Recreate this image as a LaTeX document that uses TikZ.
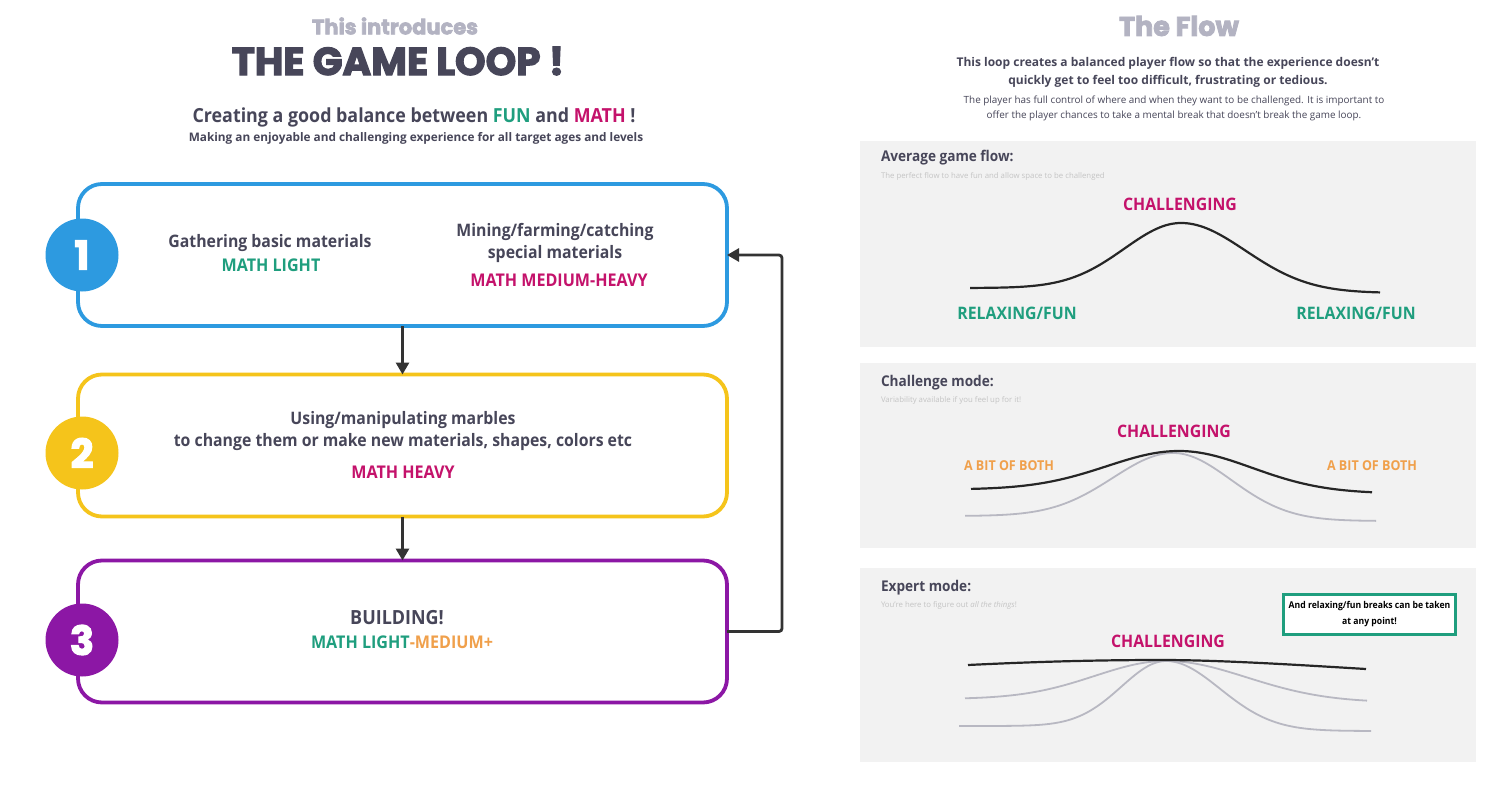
\documentclass[tikz,border=0pt]{standalone}
\usepackage{fontspec}
\setmainfont{Open Sans}
\newfontfamily\condfont{Open Sans}[FakeStretch=0.92]
\newfontfamily\titlefont{Poppins}[FakeBold=3]
\usetikzlibrary{arrows.meta}
\definecolor{ink}{HTML}{474659}
\definecolor{softgray}{HTML}{B3B3C2}
\definecolor{fun}{HTML}{1F9E7E}
\definecolor{math}{HTML}{C4126B}
\definecolor{both}{HTML}{F0A04B}
\definecolor{blueA}{HTML}{2D9AE0}
\definecolor{yellowA}{HTML}{F5C41B}
\definecolor{purpleA}{HTML}{8C17A5}
\definecolor{panelbg}{HTML}{F2F2F2}
\definecolor{faint}{HTML}{C4C4C4}
\definecolor{curvegray}{HTML}{B8B8C2}
\definecolor{arrowc}{HTML}{333333}
\newcommand\fsz[2]{\fontsize{#1}{#2}\selectfont}
\tikzset{
  every node/.style={inner sep=0pt, outer sep=0pt},
  stagebox/.style={rounded corners=24pt, line width=3.8pt, fill=white, minimum width=649pt, minimum height=142pt},
  numdisc/.style={circle, minimum size=73pt, text=white, font=\titlefont\bfseries\fsz{40}{40}},
  body/.style={text=ink, font=\condfont\bfseries\fsz{17.2}{22}, align=center},
  tag/.style={font=\condfont\bfseries\fsz{17.5}{20}},
  flowarrow/.style={draw=arrowc, line width=2.8pt, -{Triangle[length=12pt,width=13pt]}},
  panel/.style={fill=panelbg, draw=none},
  ptitle/.style={anchor=west, text=ink, font=\condfont\bfseries\fsz{14.8}{16}},
  psub/.style={anchor=west, text=faint, font=\fsz{7.8}{9}},
  plabel/.style={font=\condfont\bfseries\fsz{17.2}{19}},
  smalllabel/.style={font=\condfont\bfseries\fsz{13.6}{16}},
  maincurve/.style={draw=black!85, line width=2.2pt},
  altcurve/.style={draw=curvegray, line width=1.8pt}
}
\begin{document}
\begin{tikzpicture}[x=1pt,y=-1pt]
\fill[white] (0,0) rectangle (1508,792);
\useasboundingbox (0,0) rectangle (1508,792);

% ---------- left titles
\node[text=softgray, font=\titlefont\bfseries\fsz{21}{24}] (intro) at (395,26) {This introduces};
\node[text=ink, font=\titlefont\bfseries\fsz{39}{42}] (title) at (398,61) {THE GAME LOOP !};
\node[text=ink, font=\condfont\bfseries\fsz{19.4}{21}] (sub1) at (414,117) {Creating a good balance between \textcolor{fun}{FUN} and \textcolor{math}{MATH} !};
\node[text=ink, font=\bfseries\fsz{11.8}{14}] (sub2) at (416,138) {Making an enjoyable and challenging experience for all target ages and levels};

% ---------- stage boxes
\node[stagebox, draw=blueA] (b1) at (402.5,255) {};
\node[stagebox, draw=yellowA] (b2) at (402.5,445.5) {};
\node[stagebox, draw=purpleA] (b3) at (402.5,631.5) {};

\node[numdisc, fill=blueA] (n1) at (82,255) {1};
\node[numdisc, fill=yellowA] (n2) at (82,453) {2};
\node[numdisc, fill=purpleA] (n3) at (82,640) {3};

\node[body] (t1a) at (270,243) {Gathering basic materials};
\node[tag, text=fun] (t1b) at (271,265) {MATH LIGHT};
\node[body] (t1c) at (555,243) {Mining/farming/catching\\special materials};
\node[tag, text=math] (t1d) at (559,280) {MATH MEDIUM-HEAVY};

\node[body] (t2a) at (403,431) {Using/manipulating marbles\\to change them or make new materials, shapes, colors etc};
\node[tag, text=math] (t2b) at (403,472) {MATH HEAVY};

\node[body, font=\condfont\bfseries\fsz{19.5}{22}] (t3a) at (397,618) {BUILDING!};
\node[tag] (t3b) at (402,642) {\textcolor{fun}{MATH LIGHT}\textcolor{both}{-MEDIUM+}};

% ---------- connectors
\draw[flowarrow] (b1.south) -- (b2.north);
\draw[flowarrow] (b2.south) -- (b3.north);
\draw[flowarrow, rounded corners=3pt] (b3.east) -- ++(55,0) |- (b1.east);

% ---------- right titles
\node[text=softgray, font=\titlefont\bfseries\fsz{27}{30}] (flowtitle) at (1179,26) {The Flow};
\node[text=ink, font=\bfseries\fsz{12}{18}, align=center] (flowtxt) at (1168,72) {This loop creates a balanced player flow so that the experience doesn't\\quickly get to feel too difficult, frustrating or tedious.};
\node[text=ink, font=\fsz{9.9}{14.5}, align=center] (flowtxt2) at (1174,108.5) {The player has full control of where and when they want to be challenged. It is important to\\offer the player chances to take a mental break that doesn't break the game loop.};

% ---------- panel 1
\fill[panel] (860,141) rectangle (1476,347);
\node[ptitle] (p1t) at (881,158) {Average game flow:};
\node[psub] (p1s) at (881,176) {The perfect flow to have fun and allow space to be challenged};
\node[plabel, text=math] (p1c) at (1180,204) {CHALLENGING};
\node[plabel, text=fun] (p1l) at (1017,313) {RELAXING/FUN};
\node[plabel, text=fun] (p1r) at (1356,313) {RELAXING/FUN};
\draw[maincurve, smooth] plot[domain=970:1181, samples=70] (\x, {288 - 65*exp(-((\x-1181)/80)^2)})
  -- plot[domain=1181:1380, samples=70] (\x, {293 - 70*exp(-((\x-1181)/91)^2)});

% ---------- panel 2
\fill[panel] (860,363) rectangle (1476,548);
\node[ptitle] (p2t) at (881,383) {Challenge mode:};
\node[psub] (p2s) at (881,400) {Variability available if you feel up for it!};
\node[plabel, text=math] (p2c) at (1174,431) {CHALLENGING};
\node[smalllabel, text=both] (p2l) at (1009,466) {A BIT OF BOTH};
\node[smalllabel, text=both] (p2r) at (1372,466) {A BIT OF BOTH};
\draw[altcurve, smooth] plot[domain=965:1173, samples=70] (\x, {516 - 63*exp(-((\x-1173)/85)^2)})
  -- plot[domain=1173:1376, samples=70] (\x, {521 - 68*exp(-((\x-1173)/82)^2)});
\draw[maincurve, smooth] plot[domain=971:1179, samples=70] (\x, {489.5 - 38.5*exp(-((\x-1179)/102)^2)})
  -- plot[domain=1179:1372, samples=70] (\x, {493.5 - 42.5*exp(-((\x-1179)/103)^2)});

% ---------- panel 3
\fill[panel] (860,568) rectangle (1476,762);
\node[ptitle] (p3t) at (881,588) {Expert mode:};
\node[psub] (p3s) at (881,605) {You're here to figure out \textit{all the things}!};
\node[draw=fun, line width=3pt, fill=white, minimum width=172pt, minimum height=40pt, align=center, text=black, font=\condfont\bfseries\fsz{9.4}{16}] (note) at (1369.5,614) {And relaxing/fun breaks can be taken\\at any point!};
\node[plabel, text=math] (p3c) at (1168,641) {CHALLENGING};
\draw[altcurve, smooth] plot[domain=965:1166, samples=70] (\x, {699 - 38*exp(-((\x-1166)/101)^2)})
  -- plot[domain=1166:1367, samples=70] (\x, {702.5 - 41.5*exp(-((\x-1166)/114)^2)});
\draw[altcurve, smooth] plot[domain=959:1166, samples=70] (\x, {726 - 65*exp(-((\x-1166)/63)^2)})
  -- plot[domain=1166:1371, samples=70] (\x, {731 - 70*exp(-((\x-1166)/76)^2)});
\draw[maincurve] (968,665) .. controls (1050,661) and (1110,660) .. (1162,660) .. controls (1220,660) and (1300,665) .. (1366,669);
\end{tikzpicture}
\end{document}
